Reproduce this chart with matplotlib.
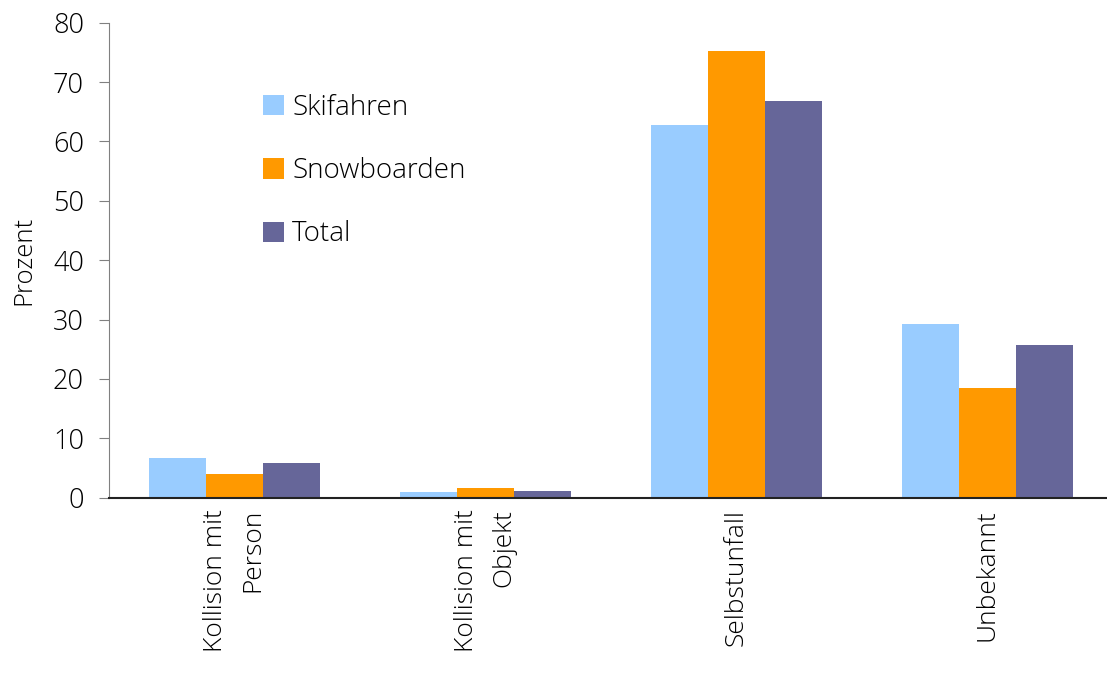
import numpy as np
import matplotlib
matplotlib.use('Agg')
import matplotlib.pyplot as plt
from matplotlib.patches import Patch

plt.rcParams['font.family'] = ['Open Sans', 'DejaVu Sans']
plt.rcParams['font.weight'] = 'light'
plt.rcParams['axes.labelweight'] = 'light'

categories = ['Kollision mit\nPerson', 'Kollision mit\nObjekt', 'Selbstunfall', 'Unbekannt']
series = ['Skifahren', 'Snowboarden', 'Total']
skifahren = [6.7, 1.0, 62.7, 29.2]
snowboarden = [4.0, 1.6, 75.2, 18.4]
total = [5.8, 1.1, 66.8, 25.8]
colors = ['#99CCFF', '#FF9900', '#666699']

fig = plt.figure(figsize=(11.07, 6.73), dpi=100)
ax = fig.add_axes([109 / 1107, 175.3 / 673, 1004 / 1107, 475 / 673])

x = np.arange(len(categories))
w = 0.227
for i, (vals, c) in enumerate(zip([skifahren, snowboarden, total], colors)):
    ax.bar(x + (i - 1) * w, vals, w, color=c, linewidth=0)

ax.set_xlim(-0.5, 3.5)
ax.set_ylim(0, 80)
ax.set_yticks(range(0, 81, 10))
ax.set_xticks(x)
ax.set_xticklabels(categories, rotation=90, ha='center', va='top',
                   multialignment='right', fontsize=19, linespacing=1.65)
ax.tick_params(axis='x', length=0, pad=8)
ax.tick_params(axis='y', direction='out', length=7, color='#808080',
               labelsize=19.5, pad=11)
ax.set_ylabel('Prozent', fontsize=18.5, labelpad=12)

ax.spines['top'].set_visible(False)
ax.spines['right'].set_visible(False)
ax.spines['left'].set_color('#808080')
ax.spines['bottom'].set_color('#222222')
ax.spines['bottom'].set_linewidth(1.5)

handles = [Patch(facecolor=c, linewidth=0) for c in colors]
ax.legend(handles, series, loc='upper left', bbox_to_anchor=(249 / 1107, 1 - 80 / 673),
          bbox_transform=fig.transFigure, frameon=False, fontsize=20,
          handlelength=0.76, handleheight=0.76, handletextpad=0.3,
          labelspacing=1.27, borderpad=0)

fig.savefig('out.png', dpi=100)
